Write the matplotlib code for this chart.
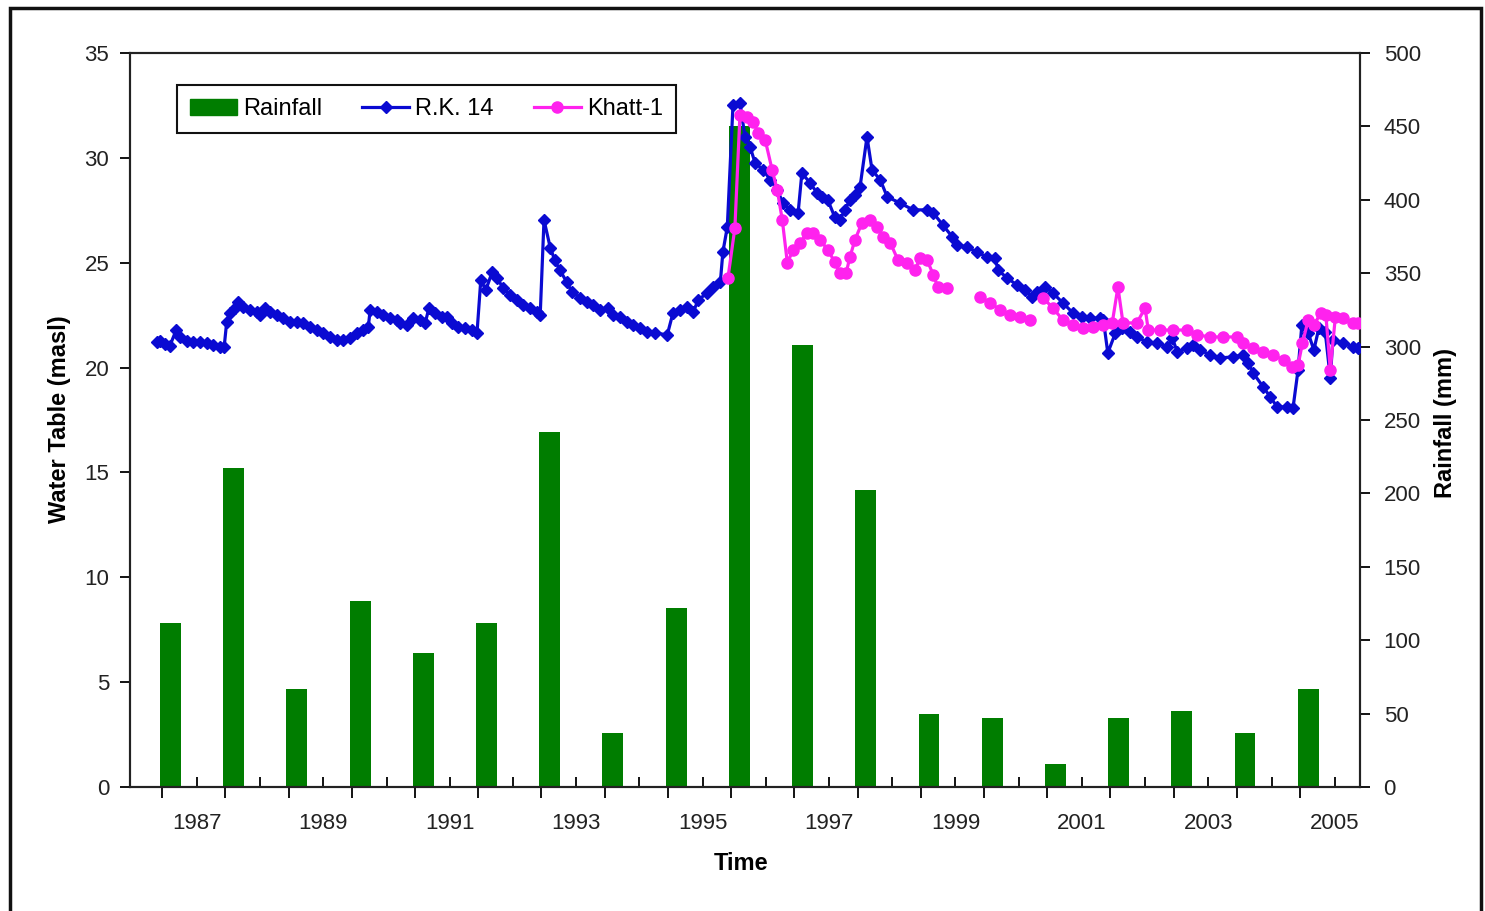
import numpy as np
import matplotlib
matplotlib.use("Agg")
import matplotlib.pyplot as plt
from matplotlib.patches import Rectangle, Patch

plt.rcParams['font.family'] = ['Liberation Sans', 'DejaVu Sans']

# annual rainfall (mm), one bar per year
rain_years = list(range(1986, 2005))
rainfall = [112, 217, 67, 127, 91, 112, 242, 37, 122, 450,
            301, 202, 50, 47, 16, 47, 52, 37, 67]

# R.K. 14 water table (masl), decimal year
rk14_t = [1986.37, 1986.41, 1986.49, 1986.57, 1986.67, 1986.73, 1986.84, 1986.94, 1987.05, 1987.16,
          1987.25, 1987.36, 1987.43, 1987.47, 1987.52, 1987.60, 1987.65, 1987.73, 1987.84, 1987.95,
          1988.00, 1988.08, 1988.16, 1988.27, 1988.36, 1988.47, 1988.58, 1988.68, 1988.79, 1988.90,
          1988.99, 1989.10, 1989.22, 1989.31, 1989.42, 1989.53, 1989.63, 1989.71, 1989.74, 1989.85,
          1989.94, 1990.05, 1990.16, 1990.21, 1990.32, 1990.42, 1990.53, 1990.61, 1990.67, 1990.77,
          1990.88, 1990.96, 1991.03, 1991.13, 1991.24, 1991.35, 1991.43, 1991.49, 1991.57, 1991.67,
          1991.75, 1991.84, 1991.95, 1992.06, 1992.16, 1992.27, 1992.38, 1992.43, 1992.49, 1992.59,
          1992.66, 1992.74, 1992.85, 1992.93, 1993.06, 1993.17, 1993.27, 1993.38, 1993.50, 1993.58,
          1993.69, 1993.80, 1993.90, 1994.01, 1994.12, 1994.25, 1994.44, 1994.53, 1994.64, 1994.75,
          1994.85, 1994.93, 1995.07, 1995.16, 1995.28, 1995.32, 1995.39, 1995.48, 1995.59, 1995.67,
          1995.75, 1995.83, 1995.96, 1996.07, 1996.18, 1996.27, 1996.38, 1996.51, 1996.57, 1996.70,
          1996.81, 1996.89, 1996.98, 1997.09, 1997.17, 1997.25, 1997.33, 1997.41, 1997.49, 1997.60,
          1997.68, 1997.81, 1997.92, 1998.12, 1998.33, 1998.55, 1998.65, 1998.80, 1998.95, 1999.03,
          1999.18, 1999.34, 1999.50, 1999.63, 1999.67, 1999.82, 1999.97, 2000.10, 2000.21, 2000.29,
          2000.42, 2000.54, 2000.70, 2000.86, 2001.00, 2001.13, 2001.29, 2001.34, 2001.41, 2001.53,
          2001.64, 2001.76, 2001.87, 2002.03, 2002.19, 2002.35, 2002.43, 2002.51, 2002.66, 2002.76,
          2002.87, 2003.03, 2003.19, 2003.39, 2003.55, 2003.63, 2003.71, 2003.87, 2003.98, 2004.09,
          2004.25, 2004.34, 2004.42, 2004.48, 2004.58, 2004.67, 2004.75, 2004.85, 2004.93, 2004.97,
          2005.13, 2005.29, 2005.37]
rk14_wt = [21.22, 21.27, 21.13, 21.03, 21.79, 21.46, 21.27, 21.22, 21.22, 21.18,
           21.08, 20.99, 20.99, 22.18, 22.60, 22.84, 23.13, 22.89, 22.75, 22.65,
           22.51, 22.84, 22.65, 22.51, 22.36, 22.18, 22.18, 22.13, 21.94, 21.79,
           21.65, 21.46, 21.32, 21.32, 21.41, 21.65, 21.79, 21.94, 22.75, 22.65,
           22.51, 22.36, 22.27, 22.13, 22.03, 22.36, 22.27, 22.13, 22.84, 22.60,
           22.41, 22.41, 22.13, 21.94, 21.89, 21.79, 21.65, 24.18, 23.70, 24.56,
           24.27, 23.80, 23.46, 23.22, 22.98, 22.84, 22.65, 22.51, 27.04, 25.70,
           25.13, 24.65, 24.08, 23.61, 23.32, 23.13, 22.98, 22.75, 22.84, 22.51,
           22.41, 22.18, 22.03, 21.89, 21.70, 21.65, 21.56, 22.60, 22.75, 22.89,
           22.65, 23.22, 23.56, 23.84, 24.08, 25.51, 26.70, 32.52, 32.62, 31.00,
           30.52, 29.76, 29.42, 28.95, 28.47, 27.85, 27.52, 27.37, 29.28, 28.80,
           28.33, 28.14, 27.99, 27.18, 27.04, 27.52, 27.99, 28.23, 28.61, 31.00,
           29.42, 28.95, 28.14, 27.85, 27.52, 27.52, 27.37, 26.80, 26.23, 25.85,
           25.75, 25.51, 25.27, 25.23, 24.65, 24.27, 23.94, 23.70, 23.37, 23.61,
           23.84, 23.56, 23.08, 22.60, 22.41, 22.36, 22.36, 22.27, 20.70, 21.65,
           21.89, 21.70, 21.46, 21.22, 21.17, 20.98, 21.41, 20.74, 20.93, 21.08,
           20.84, 20.60, 20.46, 20.51, 20.60, 20.22, 19.74, 19.07, 18.60, 18.12,
           18.12, 18.07, 19.89, 22.03, 21.65, 20.84, 21.89, 21.70, 19.50, 21.32,
           21.17, 20.98, 20.93]

# Khatt-1 water table (masl), gaps where no readings
khatt_t = [1995.40, 1995.51, 1995.59, 1995.70, 1995.80, 1995.88, 1995.99, 1996.10, 1996.18, 1996.26,
           1996.34, 1996.43, 1996.54, 1996.65, 1996.75, 1996.86, 1996.98, 1997.09, 1997.17, 1997.27,
           1997.33, 1997.41, 1997.52, 1997.65, 1997.76, 1997.85, 1997.97, 1998.09, 1998.23, 1998.36,
           1998.44, 1998.55, 1998.65, 1998.72, 1998.87, 1999.10,
           1999.39, 1999.55, 1999.71, 1999.86, 2000.02, 2000.18, 2000.28,
           2000.39, 2000.54, 2000.70, 2000.86, 2001.02, 2001.18, 2001.34, 2001.48, 2001.57, 2001.65,
           2001.87, 2002.00, 2002.05, 2002.24, 2002.44, 2002.66, 2002.82, 2003.03, 2003.23, 2003.45,
           2003.55, 2003.71, 2003.87, 2004.03, 2004.19, 2004.33, 2004.42, 2004.49, 2004.58, 2004.67,
           2004.78, 2004.86, 2004.93, 2005.01, 2005.13, 2005.29, 2005.37]
khatt_wt = [24.27, 26.66, 32.05, 31.95, 31.71, 31.19, 30.85, 29.42, 28.47, 27.04,
            24.99, 25.61, 25.94, 26.42, 26.42, 26.09, 25.61, 25.04, 24.51, 24.51,
            25.27, 26.09, 26.90, 27.04, 26.70, 26.23, 25.94, 25.13, 24.99, 24.65,
            25.23, 25.13, 24.42, 23.84, 23.80, np.nan,
            23.37, 23.08, 22.75, 22.51, 22.41, 22.27, np.nan,
            23.32, 22.84, 22.27, 22.03, 21.89, 21.94, 22.03, 22.13, 23.84, 22.13,
            22.13, 22.84, 21.79, 21.79, 21.79, 21.79, 21.56, 21.46, 21.46, 21.46,
            21.17, 20.93, 20.74, 20.60, 20.36, 20.03, 20.12, 21.17, 22.27, 22.03,
            22.60, 22.51, 19.89, 22.41, 22.37, 22.13, 22.13]

W, H = 1485, 911
fig = plt.figure(figsize=(W / 100, H / 100), dpi=100)
ax = fig.add_axes([130 / W, 1 - 787 / H, (1360 - 130) / W, (787 - 53) / H])
ax2 = ax.twinx()

# rainfall bars on the right axis, drawn underneath
bars = ax2.bar(np.array(rain_years) + 0.58, rainfall, width=0.33,
               color='#007d00', edgecolor='none', zorder=1)
ax2.set_ylim(0, 500)
ax2.set_yticks(range(0, 501, 50))

ax.set_zorder(ax2.get_zorder() + 1)
ax.patch.set_visible(False)

l1, = ax.plot(rk14_t, rk14_wt, color='#0a0ad2', lw=2.3, marker='D', ms=6,
              mec='#0a0ad2', mfc='#0a0ad2', zorder=3)
l2, = ax.plot(khatt_t, khatt_wt, color='#ff22ee', lw=2.3, marker='o', ms=8,
              mec='#ff22ee', mfc='#ff22ee', zorder=4)

ax.set_ylim(0, 35)
ax.set_yticks(range(0, 36, 5))
ax.set_xlim(1985.94, 2005.40)

# x axis: long outer ticks between years, short inner ticks at the years
ax.set_xticks([y + 0.45 for y in range(1986, 2005)])
ax.set_xticklabels([])
yrs = list(range(1987, 2006))
ax.set_xticks(yrs, minor=True)
ax.set_xticklabels([str(y) if y % 2 == 1 else '' for y in yrs], minor=True)
ax.tick_params(axis='x', which='major', direction='out', length=8, width=1.3)
ax.tick_params(axis='x', which='minor', direction='in', length=7, width=1.3,
               labelsize=16, pad=19, labelcolor='#222222')
ax.tick_params(axis='y', direction='out', length=7, width=1.3, labelsize=16,
               pad=8, labelcolor='#222222')
ax2.tick_params(axis='y', direction='out', length=7, width=1.3, labelsize=16,
                pad=10, labelcolor='#222222')
for a in (ax, ax2):
    for s in a.spines.values():
        s.set_linewidth(1.5)
        s.set_color('#222222')

ax.set_xlabel('Time', fontsize=17, fontweight='bold')
ax.xaxis.set_label_coords(0.497, -0.088)
ax.set_ylabel('Water Table (masl)', fontsize=17, fontweight='bold')
ax.yaxis.set_label_coords(-0.048, 0.501)
ax2.set_ylabel('Rainfall (mm)', fontsize=17, fontweight='bold', rotation=90)
ax2.yaxis.set_label_coords(1.0605, 0.496)

leg = ax.legend([Patch(color='#007d00'), l1, l2], ['Rainfall', 'R.K. 14', 'Khatt-1'],
                loc='upper left', bbox_to_anchor=(0.038, 0.956), borderaxespad=0,
                ncol=3, fontsize=17, frameon=True, fancybox=False, framealpha=1,
                handlelength=2.0, handletextpad=0.25, columnspacing=1.7,
                borderpad=0.55)
leg.get_frame().set_edgecolor('#111111')
leg.get_frame().set_linewidth(1.5)

# outer frame around the whole picture
fig.patches.append(Rectangle((10 / W, -0.05), (1481 - 10) / W, 1 - 8 / H + 0.05,
                             transform=fig.transFigure, fill=False,
                             lw=2.5, ec='#111111', clip_on=False))

fig.savefig('out.png', dpi=100)
